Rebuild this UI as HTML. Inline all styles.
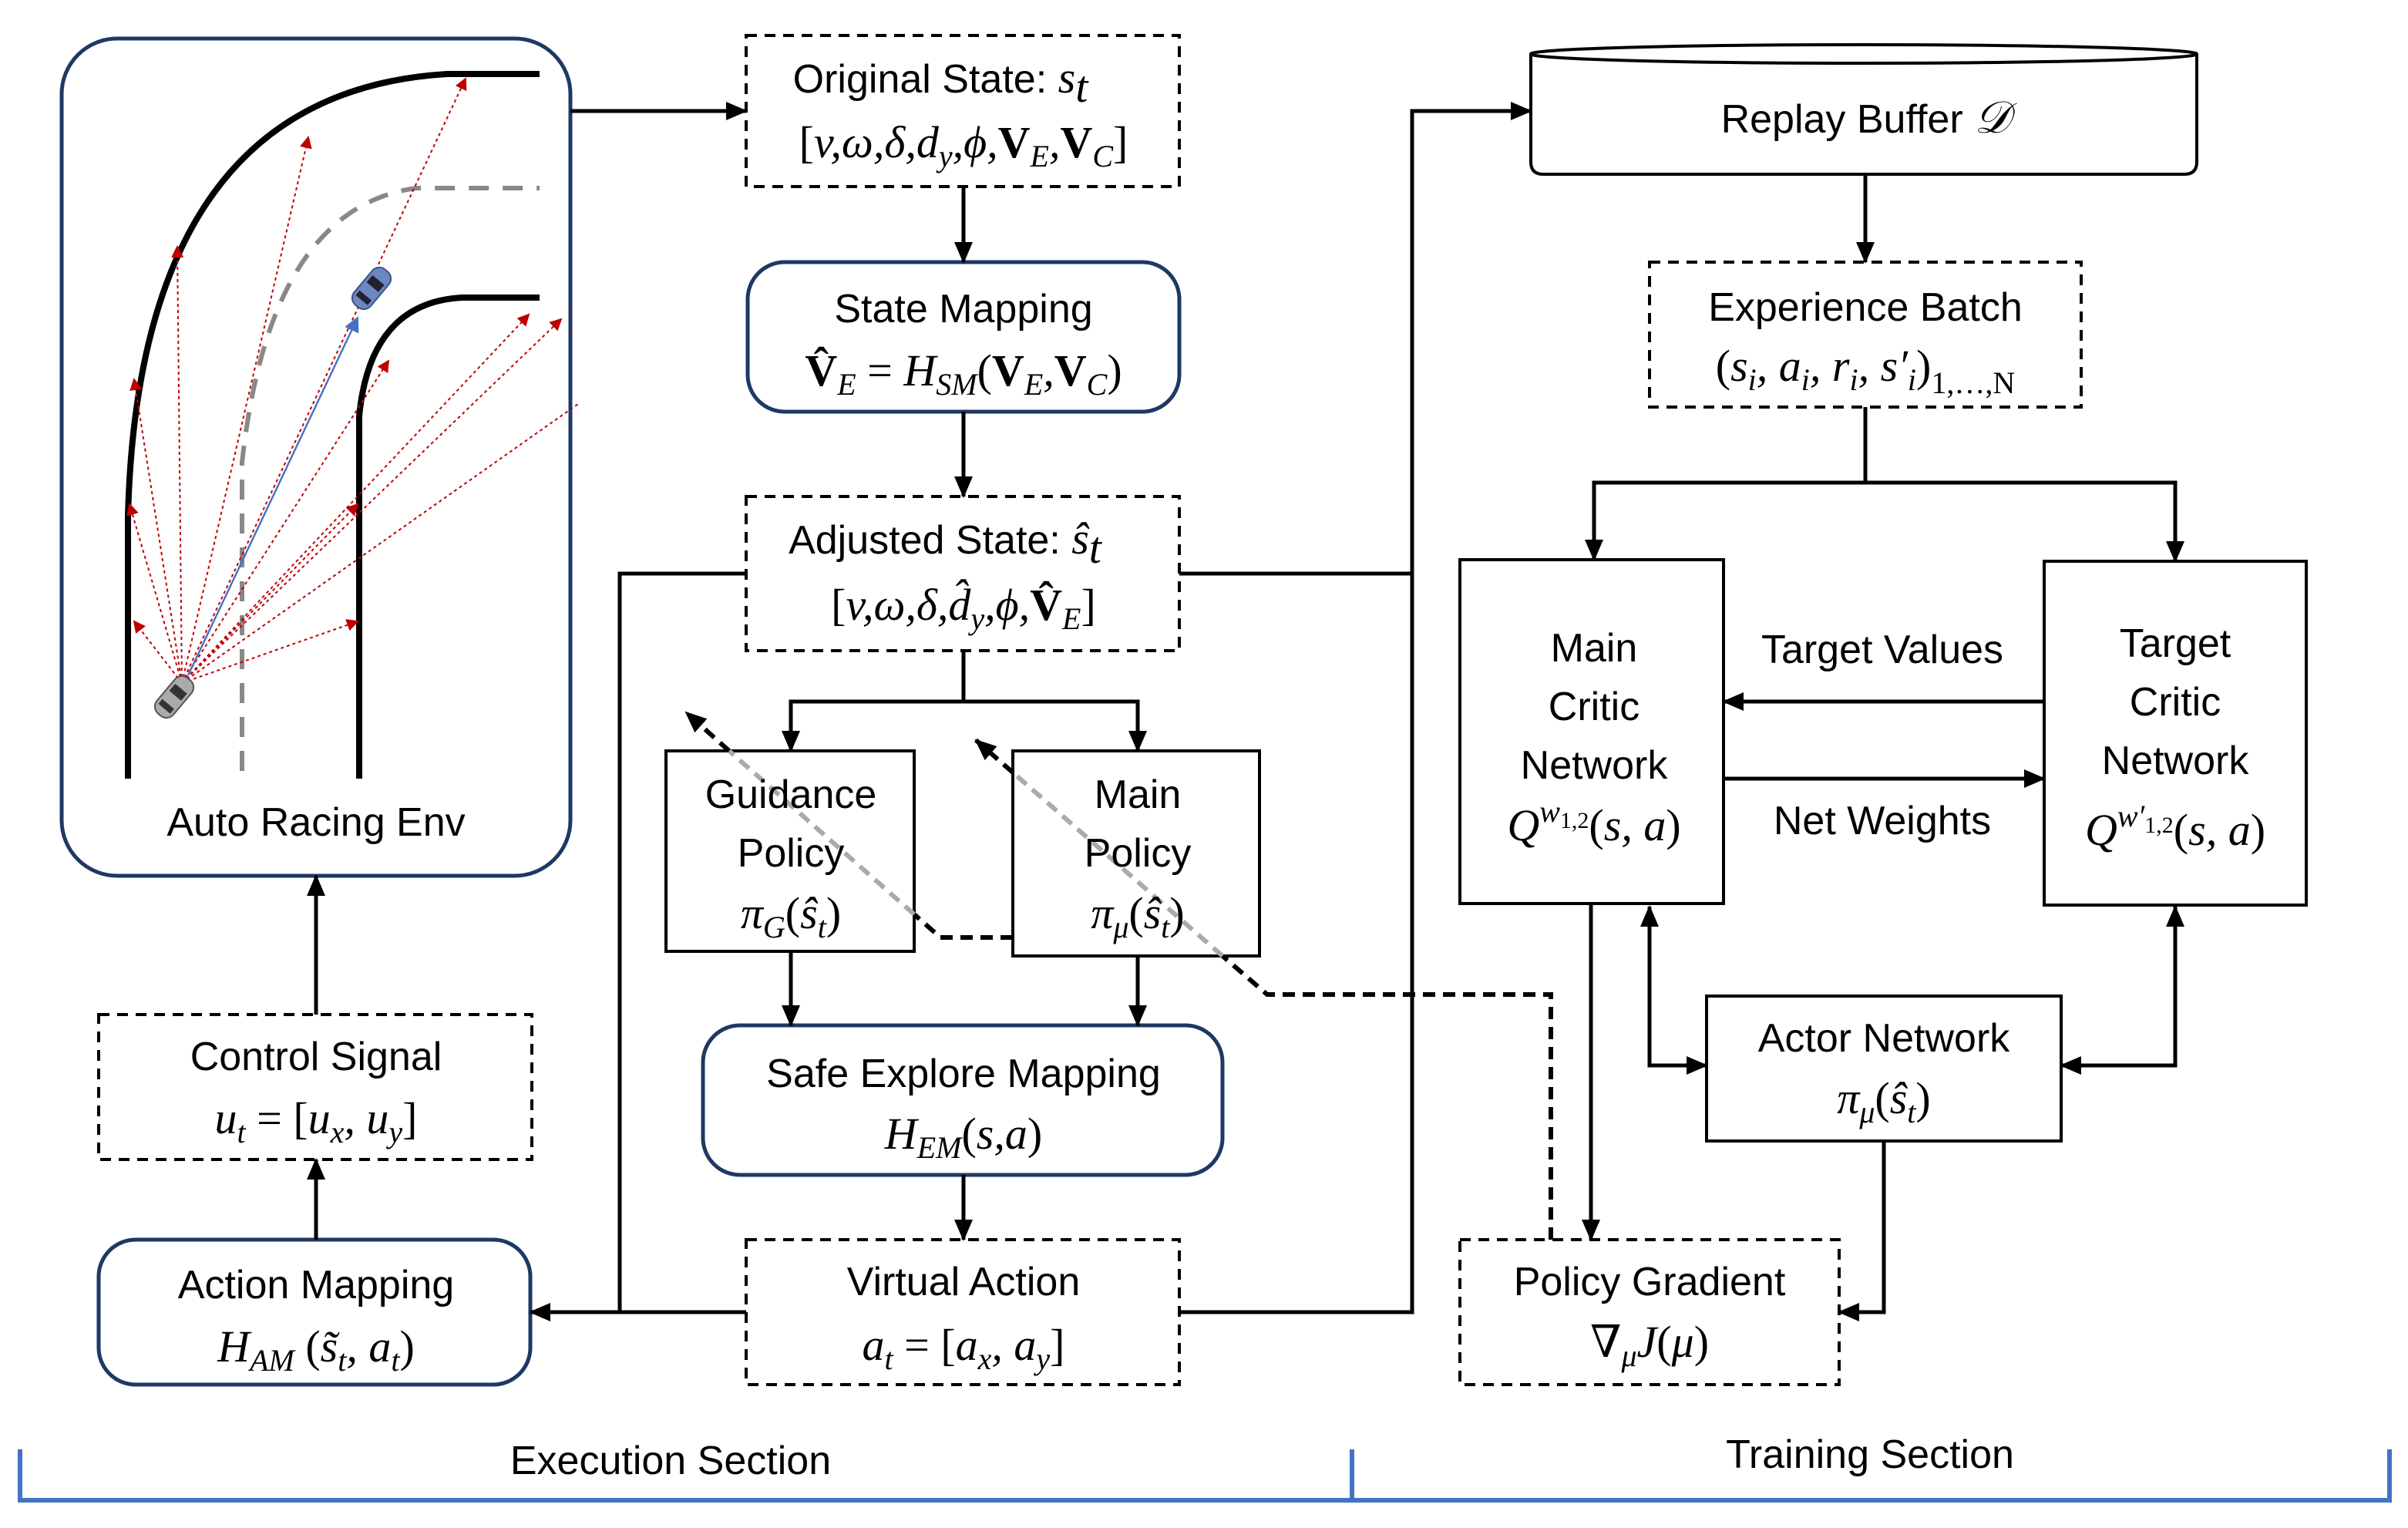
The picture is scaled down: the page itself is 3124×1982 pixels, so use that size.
<!DOCTYPE html>
<html><head><meta charset="utf-8"><style>
html,body{margin:0;padding:0;background:#fff}
svg{display:block}
.t{font-family:"Liberation Sans","DejaVu Sans",sans-serif;font-size:26px;text-anchor:middle;fill:#000}
.m{font-family:"Liberation Serif","DejaVu Serif",serif;font-style:italic;font-size:29px;text-anchor:middle;fill:#000}
.b{font-style:normal;font-weight:bold}
.n{font-style:normal}
</style></head><body>
<svg width="3124" height="1982" viewBox="0 0 1562 991" xmlns="http://www.w3.org/2000/svg">
<defs>
<marker id="a" markerUnits="userSpaceOnUse" markerWidth="14" markerHeight="14" refX="13" refY="7" orient="auto-start-reverse"><path d="M0,1 L14,7 L0,13 Z" fill="#000"/></marker>
<marker id="ar" markerUnits="userSpaceOnUse" markerWidth="8" markerHeight="8" refX="7" refY="4" orient="auto"><path d="M0,0 L8,4 L0,8 Z" fill="#c00000"/></marker>
<marker id="ab" markerUnits="userSpaceOnUse" markerWidth="10" markerHeight="10" refX="9" refY="5" orient="auto"><path d="M0,0 L10,5 L0,10 Z" fill="#4472c4"/></marker>
</defs>
<g fill="none" stroke="#000" stroke-width="2.5">
<path d="M83,505 L83,335 Q90,60 290,48 L350,48" stroke-width="4"/>
<path d="M233,505 L233,270 Q240,196 300,193 L350,193" stroke-width="4"/>
<path d="M157,500 L157,300 Q175,135 270,122 L350,122" stroke="#888" stroke-width="3" stroke-dasharray="13,9"/>
<g stroke="#c00000" stroke-width="1" stroke-dasharray="2,2" marker-end="url(#ar)">
<line x1="118" y1="443" x2="87" y2="403"/>
<line x1="118" y1="443" x2="84" y2="327"/>
<line x1="118" y1="443" x2="87" y2="246"/>
<line x1="118" y1="443" x2="115" y2="160"/>
<line x1="118" y1="443" x2="200" y2="89"/>
<line x1="118" y1="443" x2="302" y2="51"/>
<line x1="118" y1="443" x2="232" y2="403"/>
<line x1="118" y1="443" x2="232" y2="327"/>
<line x1="118" y1="443" x2="252" y2="234"/>
<line x1="118" y1="443" x2="343" y2="204"/>
<line x1="118" y1="443" x2="375" y2="262" marker-end="none"/>
<line x1="118" y1="443" x2="364" y2="207"/>
</g>
<line x1="122" y1="438" x2="232" y2="206" stroke="#4472c4" stroke-width="1.2" marker-end="url(#ab)"/>
</g>
<g transform="translate(113,452) rotate(40)"><rect x="-7" y="-15" width="14" height="30" rx="6" fill="#aaa" stroke="#555" stroke-width="1"/><rect x="-5" y="-7" width="10" height="6" fill="#333"/><rect x="-5" y="6" width="10" height="4" fill="#333"/></g>
<g transform="translate(241,187) rotate(40)"><rect x="-7" y="-15" width="14" height="30" rx="6" fill="#6b86c0" stroke="#3d558a" stroke-width="1"/><rect x="-5" y="-7" width="10" height="6" fill="#223"/><rect x="-5" y="6" width="10" height="4" fill="#223"/></g>
<rect x="370" y="30" width="6" height="95" fill="#fff"/>
<rect x="40" y="25" width="330" height="543" rx="36" fill="none" stroke="#1f3864" stroke-width="2.5"/>
<text class="t" x="205" y="542">Auto Racing Env</text>

<g fill="none" stroke="#000" stroke-width="2">
<g stroke-dasharray="7,5">
<rect x="484" y="23" width="281" height="98"/>
<rect x="484" y="322" width="281" height="100"/>
<rect x="484" y="804" width="281" height="94"/>
<rect x="64" y="658" width="281" height="94"/>
<rect x="1070" y="170" width="280" height="94"/>
<rect x="947" y="804" width="246" height="94"/>
</g>
<g stroke="#1f3864" stroke-width="2.5">
<rect x="485" y="170" width="280" height="97" rx="24"/>
<rect x="456" y="665" width="337" height="97" rx="24"/>
<rect x="64" y="804" width="280" height="94" rx="24"/>
</g>
<rect x="432" y="487" width="161" height="130"/>
<rect x="657" y="487" width="160" height="133"/>
<rect x="947" y="363" width="171" height="223"/>
<rect x="1326" y="364" width="170" height="223"/>
<rect x="1107" y="646" width="230" height="94"/>
<path d="M993,35 L993,105 Q993,113 1001,113 L1417,113 Q1425,113 1425,105 L1425,35"/>
<ellipse cx="1209" cy="35" rx="216" ry="6"/>

<g stroke-width="2.5">
<line x1="370" y1="72" x2="484" y2="72" marker-end="url(#a)"/>
<line x1="625" y1="121" x2="625" y2="170" marker-end="url(#a)"/>
<line x1="625" y1="267" x2="625" y2="322" marker-end="url(#a)"/>
<polyline points="625,422 625,455 513,455 513,487" marker-end="url(#a)"/>
<polyline points="625,455 738,455 738,487" marker-end="url(#a)"/>
<polyline points="484,372 402,372 402,851"/>
<line x1="484" y1="851" x2="344" y2="851" marker-end="url(#a)"/>
<polyline points="765,372 916,372"/>
<polyline points="765,851 916,851 916,72 993,72" marker-end="url(#a)"/>
<line x1="513" y1="617" x2="513" y2="665" marker-end="url(#a)"/>
<line x1="738" y1="620" x2="738" y2="665" marker-end="url(#a)"/>
<line x1="625" y1="762" x2="625" y2="804" marker-end="url(#a)"/>
<line x1="205" y1="804" x2="205" y2="752" marker-end="url(#a)"/>
<line x1="205" y1="658" x2="205" y2="568" marker-end="url(#a)"/>
<line x1="1210" y1="113" x2="1210" y2="170" marker-end="url(#a)"/>
<polyline points="1210,264 1210,313 1034,313 1034,363" marker-end="url(#a)"/>
<polyline points="1210,313 1411,313 1411,364" marker-end="url(#a)"/>
<line x1="1326" y1="455" x2="1118" y2="455" marker-end="url(#a)"/>
<line x1="1118" y1="505" x2="1326" y2="505" marker-end="url(#a)"/>
<line x1="1032" y1="586" x2="1032" y2="804" marker-end="url(#a)"/>
<polyline points="1070,588 1070,691 1107,691" marker-end="url(#a)" marker-start="url(#a)"/>
<polyline points="1411,588 1411,691 1337,691" marker-end="url(#a)" marker-start="url(#a)"/>
<polyline points="1222,740 1222,851 1193,851" marker-end="url(#a)"/>
</g>
<g stroke-width="3" stroke-dasharray="8,5">
<polyline points="1006,804 1006,645 822,645 793,620"/>
<line x1="657" y1="501" x2="633" y2="480" marker-end="url(#a)"/>
<polyline points="657,608 610,608 593,593"/>
<line x1="473" y1="487" x2="445" y2="462" marker-end="url(#a)"/>
</g>
<g stroke="#aaa" stroke-width="3" stroke-dasharray="8,5">
<line x1="793" y1="620" x2="657" y2="501"/>
<line x1="593" y1="593" x2="473" y2="487"/>
</g>
<polyline points="13,940 13,973 1550,973 1550,940" stroke="#4472c4" stroke-width="3"/>
<line x1="877" y1="940" x2="877" y2="973" stroke="#4472c4" stroke-width="3"/>
</g>

<text class="t" x="610" y="60">Original State: <tspan class="m">s</tspan><tspan class="m" font-size="20" dy="6">t</tspan></text>
<text class="m" x="625" y="102"><tspan class="n">[</tspan>v,ω,δ,d<tspan font-size="20" dy="6">y</tspan><tspan dy="-6">,ϕ,</tspan><tspan class="b">V</tspan><tspan font-size="20" dy="6">E</tspan><tspan dy="-6">,</tspan><tspan class="b">V</tspan><tspan font-size="20" dy="6">C</tspan><tspan class="n" dy="-6">]</tspan></text>
<text class="t" x="625" y="209">State Mapping</text>
<text class="m" x="625" y="250"><tspan class="b">V̂</tspan><tspan font-size="20" dy="6">E</tspan><tspan class="n" dy="-6"> = </tspan>H<tspan font-size="20" dy="6">SM</tspan><tspan class="n" dy="-6">(</tspan><tspan class="b">V</tspan><tspan font-size="20" dy="6">E</tspan><tspan dy="-6">,</tspan><tspan class="b">V</tspan><tspan font-size="20" dy="6">C</tspan><tspan class="n" dy="-6">)</tspan></text>
<text class="t" x="613" y="359">Adjusted State: <tspan class="m">ŝ</tspan><tspan class="m" font-size="20" dy="6">t</tspan></text>
<text class="m" x="625" y="402"><tspan class="n">[</tspan>v,ω,δ,d̂<tspan font-size="20" dy="6">y</tspan><tspan dy="-6">,ϕ,</tspan><tspan class="b">V̂</tspan><tspan font-size="20" dy="6">E</tspan><tspan class="n" dy="-6">]</tspan></text>
<text class="t" x="513" y="524">Guidance</text>
<text class="t" x="513" y="562">Policy</text>
<text class="m" x="513" y="602">π<tspan font-size="20" dy="6">G</tspan><tspan class="n" dy="-6">(</tspan>ŝ<tspan font-size="20" dy="6">t</tspan><tspan class="n" dy="-6">)</tspan></text>
<text class="t" x="738" y="524">Main</text>
<text class="t" x="738" y="562">Policy</text>
<text class="m" x="738" y="602">π<tspan font-size="20" dy="6">μ</tspan><tspan class="n" dy="-6">(</tspan>ŝ<tspan font-size="20" dy="6">t</tspan><tspan class="n" dy="-6">)</tspan></text>
<text class="t" x="625" y="705">Safe Explore Mapping</text>
<text class="m" x="625" y="745">H<tspan font-size="20" dy="6">EM</tspan><tspan class="n" dy="-6">(</tspan>s,a<tspan class="n">)</tspan></text>
<text class="t" x="625" y="840">Virtual Action</text>
<text class="m" x="625" y="882">a<tspan font-size="20" dy="6">t</tspan><tspan class="n" dy="-6"> = [</tspan>a<tspan font-size="20" dy="6">x</tspan><tspan dy="-6">, </tspan>a<tspan font-size="20" dy="6">y</tspan><tspan class="n" dy="-6">]</tspan></text>
<text class="t" x="205" y="842">Action Mapping</text>
<text class="m" x="205" y="883">H<tspan font-size="20" dy="6">AM</tspan><tspan class="n" dy="-6"> (</tspan>s̃<tspan font-size="20" dy="6">t</tspan><tspan dy="-6">, </tspan>a<tspan font-size="20" dy="6">t</tspan><tspan class="n" dy="-6">)</tspan></text>
<text class="t" x="205" y="694">Control Signal</text>
<text class="m" x="205" y="735">u<tspan font-size="20" dy="6">t</tspan><tspan class="n" dy="-6"> = [</tspan>u<tspan font-size="20" dy="6">x</tspan><tspan dy="-6">, </tspan>u<tspan font-size="20" dy="6">y</tspan><tspan class="n" dy="-6">]</tspan></text>
<text class="t" x="1210" y="86">Replay Buffer <tspan class="m">𝒟</tspan></text>
<text class="t" x="1210" y="208">Experience Batch</text>
<text class="m" x="1210" y="247"><tspan class="n">(</tspan>s<tspan font-size="20" dy="6">i</tspan><tspan dy="-6">, </tspan>a<tspan font-size="20" dy="6">i</tspan><tspan dy="-6">, </tspan>r<tspan font-size="20" dy="6">i</tspan><tspan dy="-6">, </tspan>s′<tspan font-size="20" dy="6">i</tspan><tspan class="n" dy="-6">)</tspan><tspan class="n" font-size="20" dy="8">1,…,N</tspan></text>
<text class="t" x="1034" y="429">Main</text>
<text class="t" x="1034" y="467">Critic</text>
<text class="t" x="1034" y="505">Network</text>
<text class="m" x="1034" y="545">Q<tspan font-size="20" dy="-12">w</tspan><tspan class="n" font-size="15" dy="4">1,2</tspan><tspan class="n" dy="8">(</tspan>s, a<tspan class="n">)</tspan></text>
<text class="t" x="1411" y="426">Target</text>
<text class="t" x="1411" y="464">Critic</text>
<text class="t" x="1411" y="502">Network</text>
<text class="m" x="1411" y="548">Q<tspan font-size="20" dy="-12">w′</tspan><tspan class="n" font-size="15" dy="4">1,2</tspan><tspan class="n" dy="8">(</tspan>s, a<tspan class="n">)</tspan></text>
<text class="t" x="1221" y="430">Target Values</text>
<text class="t" x="1221" y="541">Net Weights</text>
<text class="t" x="1222" y="682">Actor Network</text>
<text class="m" x="1222" y="722">π<tspan font-size="20" dy="6">μ</tspan><tspan class="n" dy="-6">(</tspan>ŝ<tspan font-size="20" dy="6">t</tspan><tspan class="n" dy="-6">)</tspan></text>
<text class="t" x="1070" y="840">Policy Gradient</text>
<text class="m" x="1070" y="880"><tspan class="n">∇</tspan><tspan font-size="20" dy="6">μ</tspan><tspan dy="-6">J</tspan><tspan class="n">(</tspan>μ<tspan class="n">)</tspan></text>
<text class="t" x="435" y="956">Execution Section</text>
<text class="t" x="1213" y="952">Training Section</text>
</svg>
</body></html>
